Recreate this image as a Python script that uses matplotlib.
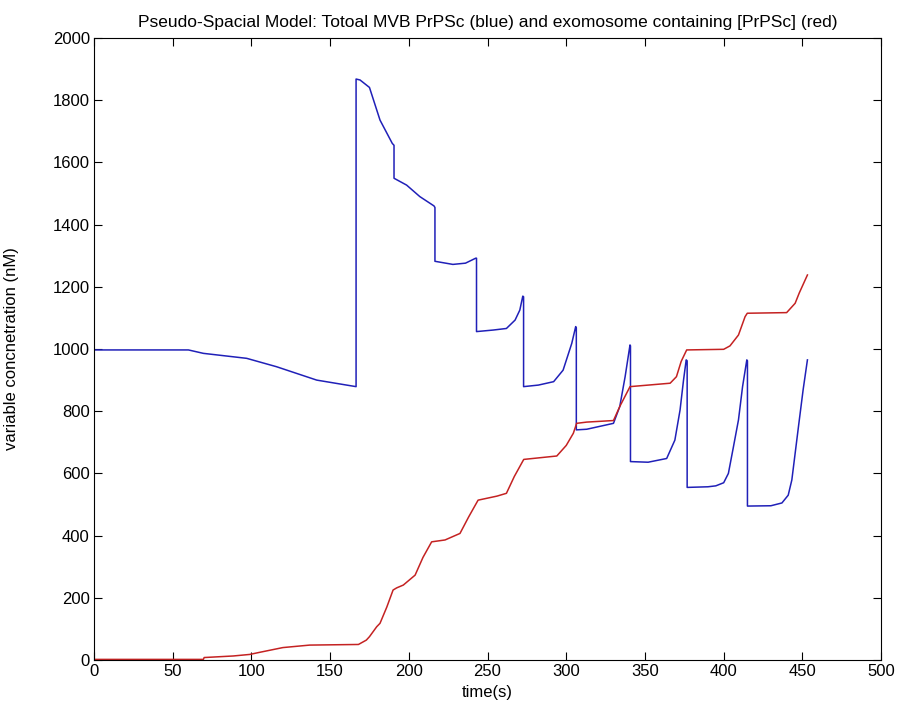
import matplotlib.pyplot as plt
import numpy as np

plt.rcParams['font.family'] = ['Liberation Sans Narrow', 'Liberation Sans', 'DejaVu Sans']

# total MVB PrPSc
t_mvb = [0, 60, 69.5, 97, 116, 141.5, 160.5, 166.5, 166.5, 169, 175, 181.7, 189.5, 190.6, 190.6,
         198.6, 207, 216, 216.6, 216.6, 228, 236, 242.5, 243, 243, 253.7, 262, 267.5, 270.5,
         272.4, 272.9, 272.9, 282.3, 292, 298, 303.5, 306, 306.4, 306.4, 313, 330, 334, 337.4,
         340.5, 340.8, 340.8, 352, 363.8, 369, 372.3, 374.5, 376.2, 376.8, 376.8, 390, 395, 400,
         403, 406, 409.4, 412, 414.7, 415.1, 415.1, 430, 437, 441, 443.3, 447.5, 450.5, 453.2]
mvb = [997, 997, 986, 970, 943, 900, 884, 879, 1868, 1865, 1841, 1736, 1661, 1655, 1549,
       1527, 1490, 1460, 1455, 1282, 1272, 1276, 1292, 1292, 1056, 1061, 1066, 1093, 1125,
       1170, 1168, 879, 884, 895, 932, 1018, 1072, 1068, 740, 742, 761, 815, 911,
       1013, 1010, 638, 636, 648, 707, 804, 900, 965, 962, 555, 557, 560, 570,
       600, 680, 772, 879, 965, 962, 495, 496, 505, 530, 579, 750, 870, 965]

# exomosome containing PrPSc
t_exo = [0, 69.5, 70, 88.5, 99, 105.5, 120, 137, 168, 173, 175, 179.6, 181.7, 186, 190, 192.3,
         196.5, 204, 209, 214.5, 223, 232.5, 238, 244, 256, 262, 267, 273, 294, 300, 304.5,
         306.6, 313, 330, 334, 340.5, 366, 370, 373, 376.5, 400, 404, 409.4, 413.6, 415, 440,
         445.4, 448, 453.2]
exo = [2, 2, 8, 13, 18, 25, 40, 48, 50, 64, 75, 107, 118, 170, 225, 232,
       241, 273, 330, 380, 386, 407, 460, 514, 527, 536, 590, 645, 656, 690, 729,
       761, 765, 770, 815, 879, 890, 911, 960, 997, 999, 1010, 1045, 1104, 1115, 1117,
       1147, 1180, 1238]

fig = plt.figure(figsize=(9, 7.14), dpi=100)
ax = fig.add_axes([0.1044, 0.0756, 0.8746, 0.8712])
ax.plot(t_mvb, mvb, color='#2020b8', lw=1.1)
ax.plot(t_exo, exo, color='#c42222', lw=1.1)

ax.set_xlim(0, 500)
ax.set_ylim(0, 2000)
ax.set_xticks(np.arange(0, 501, 50))
ax.set_yticks(np.arange(0, 2001, 200))
ax.tick_params(direction='in', top=True, right=True, length=6, labelsize=12, pad=3)
ax.set_xlabel('time(s)', fontsize=12)
ax.set_ylabel('variable concnetration (nM)', fontsize=12)
ax.yaxis.set_label_coords(-0.095, 0.5)
ax.set_title('Pseudo-Spacial Model: Totoal MVB PrPSc (blue) and exomosome containing [PrPSc] (red)',
             fontsize=12.5, pad=8)

plt.savefig('out.png', dpi=100)
